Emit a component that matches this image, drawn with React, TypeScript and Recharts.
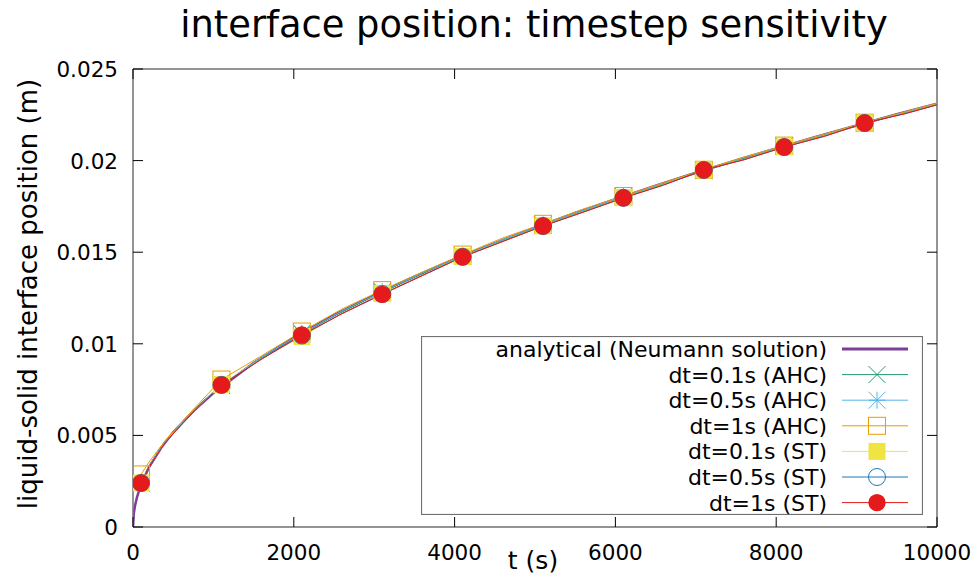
import { LineChart, Line, XAxis, YAxis, ReferenceLine, Legend } from 'recharts';

// plot frame in page pixels
const WIDTH = 978;
const HEIGHT = 577;
const PLOT_LEFT = 133;
const PLOT_RIGHT = 937;
const PLOT_TOP = 69;
const PLOT_BOTTOM = 527;
const TICK_LEN = 10;
const FRAME = '#707070';
const FONT = '"DejaVu Sans", sans-serif';

// analytical Neumann solution
const analyticT = [0, 10, 25, 50, 100, 200, 350, 500, 750, 1000, 1500, 2000, 2500, 3000, 3500, 4000, 4500, 5000, 5500, 6000, 6500, 7000, 7500, 8000, 8500, 9000, 9500, 10000];
const analyticS = [0, 0.00073, 0.00116, 0.00163, 0.00231, 0.00327, 0.00432, 0.00517, 0.00633, 0.00731, 0.00895, 0.01034, 0.01156, 0.01266, 0.01367, 0.01462, 0.0155, 0.01634, 0.01714, 0.0179, 0.01863, 0.01934, 0.02001, 0.02067, 0.02131, 0.02192, 0.02253, 0.02311];

// simulation output times
const simT = [100, 200, 400, 700, 1100, 1600, 2100, 2600, 3100, 3600, 4100, 4600, 5100, 5600, 6100, 6600, 7100, 7600, 8100, 8600, 9100, 9600, 10000];
const markerT = [100, 1100, 2100, 3100, 4100, 5100, 6100, 7100, 8100, 9100];

const ahc01 = [0.0024, 0.00335, 0.00465, 0.00612, 0.00772, 0.00926, 0.01055, 0.01176, 0.01283, 0.01385, 0.01477, 0.01568, 0.01648, 0.01727, 0.01802, 0.01875, 0.01945, 0.02015, 0.02078, 0.02141, 0.02203, 0.02262, 0.02309];
const ahc05 = [0.00241, 0.00337, 0.00467, 0.00614, 0.00775, 0.00928, 0.01057, 0.01179, 0.01285, 0.01387, 0.01479, 0.0157, 0.0165, 0.01729, 0.01804, 0.01877, 0.01947, 0.02017, 0.0208, 0.02143, 0.02205, 0.02264, 0.02311];
const ahc1 = [0.00287, 0.00355, 0.00472, 0.00618, 0.00805, 0.00935, 0.01067, 0.0119, 0.01293, 0.01392, 0.01487, 0.01578, 0.01655, 0.01735, 0.01807, 0.0188, 0.0195, 0.0202, 0.02082, 0.02145, 0.02207, 0.02266, 0.02313];
const st01 = [0.0024, 0.00332, 0.00462, 0.00608, 0.00778, 0.0092, 0.0104, 0.01168, 0.01274, 0.01376, 0.01476, 0.01562, 0.01644, 0.01722, 0.01798, 0.0187, 0.01949, 0.02008, 0.02075, 0.02136, 0.02205, 0.02258, 0.02306];
const st05 = [0.0024, 0.00331, 0.00461, 0.00607, 0.00776, 0.00918, 0.01045, 0.01166, 0.01272, 0.01374, 0.01475, 0.0156, 0.01643, 0.0172, 0.01797, 0.01868, 0.01949, 0.02006, 0.02074, 0.02134, 0.02205, 0.02257, 0.02305];
const st1 = [0.0024, 0.0033, 0.0046, 0.00606, 0.00775, 0.00916, 0.01048, 0.01164, 0.0127, 0.01372, 0.01474, 0.01558, 0.01643, 0.01718, 0.01796, 0.01866, 0.01949, 0.02004, 0.02074, 0.02132, 0.02205, 0.02255, 0.02304];

const xTicks = [0, 2000, 4000, 6000, 8000, 10000];
const yTicks = [0, 0.005, 0.01, 0.015, 0.02, 0.025];

type MarkerKind = 'none' | 'cross' | 'star' | 'box' | 'fbox' | 'circle' | 'fcircle';

const series: { key: string; name: string; color: string; width: number; marker: MarkerKind; t: number[]; s: number[] }[] = [
  { key: 'analytic', name: 'analytical (Neumann solution)', color: '#7b3f98', width: 2.5, marker: 'none', t: analyticT, s: analyticS },
  { key: 'ahc01', name: 'dt=0.1s (AHC)', color: '#229a70', width: 1, marker: 'cross', t: simT, s: ahc01 },
  { key: 'ahc05', name: 'dt=0.5s (AHC)', color: '#56b4e9', width: 1, marker: 'star', t: simT, s: ahc05 },
  { key: 'ahc1', name: 'dt=1s (AHC)', color: '#e69f00', width: 1, marker: 'box', t: simT, s: ahc1 },
  { key: 'st01', name: 'dt=0.1s (ST)', color: '#f0e442', width: 1, marker: 'fbox', t: simT, s: st01 },
  { key: 'st05', name: 'dt=0.5s (ST)', color: '#1f78b4', width: 1, marker: 'circle', t: simT, s: st05 },
  { key: 'st1', name: 'dt=1s (ST)', color: '#e41a1c', width: 1, marker: 'fcircle', t: simT, s: st1 },
];

function Marker({ kind, color, x, y }: { kind: MarkerKind; color: string; x: number; y: number }) {
  const r = 8.5;
  switch (kind) {
    case 'cross':
      return (
        <g stroke={color} strokeWidth={1}>
          <line x1={x - r} y1={y - r} x2={x + r} y2={y + r} />
          <line x1={x - r} y1={y + r} x2={x + r} y2={y - r} />
        </g>
      );
    case 'star':
      return (
        <g stroke={color} strokeWidth={1}>
          <line x1={x - r} y1={y - r} x2={x + r} y2={y + r} />
          <line x1={x - r} y1={y + r} x2={x + r} y2={y - r} />
          <line x1={x} y1={y - r} x2={x} y2={y + r} />
          <line x1={x - r} y1={y} x2={x + r} y2={y} />
        </g>
      );
    case 'box':
      return <rect x={x - r} y={y - r} width={2 * r} height={2 * r} fill="none" stroke={color} strokeWidth={1} />;
    case 'fbox':
      return <rect x={x - r} y={y - r} width={2 * r} height={2 * r} fill={color} />;
    case 'circle':
      return <circle cx={x} cy={y} r={r} fill="none" stroke={color} strokeWidth={1} />;
    case 'fcircle':
      return <circle cx={x} cy={y} r={8.7} fill={color} />;
    default:
      return null;
  }
}

const dotFor = (kind: MarkerKind, color: string) => (p: any) => {
  const { cx, cy, payload, index } = p;
  if (kind === 'none' || !markerT.includes(payload.t)) return <g key={`n${index}`} />;
  return (
    <g key={`m${index}`}>
      <Marker kind={kind} color={color} x={cx} y={cy} />
    </g>
  );
};

const XTick = (p: any) => {
  const { x, payload } = p;
  return (
    <g>
      <line x1={x} y1={PLOT_BOTTOM} x2={x} y2={PLOT_BOTTOM - TICK_LEN} stroke="#000" />
      <line x1={x} y1={PLOT_TOP} x2={x} y2={PLOT_TOP + TICK_LEN} stroke="#000" />
      <text x={x} y={PLOT_BOTTOM + 33} textAnchor="middle" fontSize={21.5} fill="#000" fontFamily={FONT}>
        {payload.value}
      </text>
    </g>
  );
};

const YTick = (p: any) => {
  const { y, payload } = p;
  return (
    <g>
      <line x1={PLOT_LEFT} y1={y} x2={PLOT_LEFT + TICK_LEN} y2={y} stroke="#000" />
      <line x1={PLOT_RIGHT} y1={y} x2={PLOT_RIGHT - TICK_LEN} y2={y} stroke="#000" />
      <text x={PLOT_LEFT - 15} y={y + 8} textAnchor="end" fontSize={21.5} fill="#000" fontFamily={FONT}>
        {String(+Number(payload.value).toFixed(3))}
      </text>
    </g>
  );
};

const KEY_W = 502;
const KEY_H = 179;

function KeyBox() {
  return (
    <svg width={KEY_W} height={KEY_H} style={{ display: 'block' }}>
      <rect x={0.5} y={0.5} width={KEY_W - 1} height={KEY_H - 1} fill="#fff" stroke={FRAME} strokeWidth={1.2} />
      {series.map((s, i) => {
        const cy = 13 + i * 25.6;
        return (
          <g key={s.key}>
            <text x={406} y={cy + 8} textAnchor="end" fontSize={22} fill="#000" fontFamily={FONT}>
              {s.name}
            </text>
            <line x1={421} y1={cy} x2={487} y2={cy} stroke={s.color} strokeWidth={s.width === 1 ? 1 : 3} />
            <Marker kind={s.marker} color={s.color} x={456} y={cy} />
          </g>
        );
      })}
    </svg>
  );
}

export default function App() {
  return (
    <div style={{ position: 'absolute', left: 0, top: 0, width: WIDTH, height: HEIGHT, background: '#fff' }}>
      <LineChart
        width={WIDTH}
        height={HEIGHT}
        margin={{ top: PLOT_TOP, right: WIDTH - PLOT_RIGHT, bottom: 0, left: 0 }}
        style={{ fontFamily: FONT }}
      >
        <XAxis
          type="number"
          dataKey="t"
          domain={[0, 10000]}
          ticks={xTicks}
          height={HEIGHT - PLOT_BOTTOM}
          tickSize={0}
          tickMargin={0}
          tickLine={false}
          tick={XTick}
          axisLine={{ stroke: FRAME, strokeWidth: 1.5 }}
          allowDataOverflow
        />
        <YAxis
          type="number"
          domain={[0, 0.025]}
          ticks={yTicks}
          width={PLOT_LEFT}
          tickSize={0}
          tickMargin={0}
          tickLine={false}
          tick={YTick}
          axisLine={{ stroke: FRAME, strokeWidth: 1.5 }}
          allowDataOverflow
        />
        <ReferenceLine y={0.025} stroke={FRAME} strokeWidth={1.5} />
        <ReferenceLine x={10000} stroke={FRAME} strokeWidth={1.5} />
        {series.map((s) => (
          <Line
            key={s.key}
            data={s.t.map((t, i) => ({ t, v: s.s[i] }))}
            dataKey="v"
            name={s.name}
            type="linear"
            stroke={s.color}
            strokeWidth={s.width}
            dot={dotFor(s.marker, s.color)}
            activeDot={false}
            isAnimationActive={false}
          />
        ))}
        <Legend
          layout="horizontal"
          verticalAlign="middle"
          align="center"
          wrapperStyle={{ position: 'absolute', left: 421, top: 336, width: KEY_W, height: KEY_H }}
          content={() => <KeyBox />}
        />
        <text x={534} y={37} textAnchor="middle" fontSize={36.8} fill="#000" fontFamily={FONT}>
          interface position: timestep sensitivity
        </text>
        <text x={533} y={569} textAnchor="middle" fontSize={25} fill="#000" fontFamily={FONT}>
          t (s)
        </text>
        <text x={37} y={294} textAnchor="middle" fontSize={26} fill="#000" fontFamily={FONT} transform="rotate(-90, 37, 294)">
          liquid-solid interface position (m)
        </text>
      </LineChart>
    </div>
  );
}
